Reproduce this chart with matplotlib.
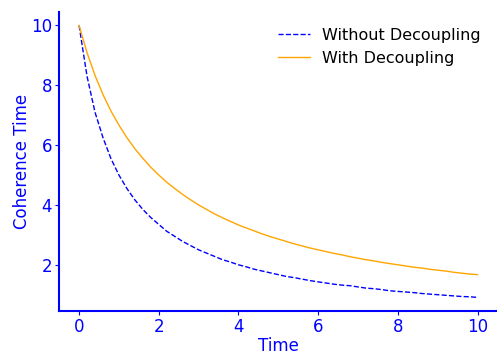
import matplotlib
matplotlib.use("Agg")
import matplotlib.pyplot as plt

time = [round(0.2 * i, 1) for i in range(51)]
without_decoupling = [10.0, 8.3, 7.1, 6.25, 5.55, 5.0, 4.55, 4.17, 3.85, 3.58,
                      3.35, 3.12, 2.95, 2.78, 2.64, 2.5, 2.39, 2.28, 2.17, 2.09,
                      2.0, 1.93, 1.85, 1.79, 1.73, 1.67, 1.61, 1.57, 1.52, 1.47,
                      1.43, 1.39, 1.35, 1.32, 1.30, 1.26, 1.22, 1.20, 1.17, 1.13,
                      1.11, 1.09, 1.07, 1.04, 1.02, 1.0, 0.98, 0.96, 0.94, 0.93, 0.91]
with_decoupling = [10.0, 9.09, 8.33, 7.69, 7.14, 6.67, 6.25, 5.88, 5.56, 5.26,
                   5.0, 4.76, 4.55, 4.35, 4.17, 4.0, 3.85, 3.70, 3.57, 3.45,
                   3.33, 3.23, 3.13, 3.03, 2.94, 2.86, 2.78, 2.70, 2.63, 2.56,
                   2.5, 2.44, 2.38, 2.33, 2.27, 2.22, 2.17, 2.13, 2.08, 2.04,
                   2.0, 1.96, 1.92, 1.89, 1.85, 1.82, 1.79, 1.75, 1.72, 1.69, 1.67]

fig = plt.figure(figsize=(4.97, 3.54), dpi=100)
ax = fig.add_axes([0.119, 0.1215, 0.882, 0.845])
ax.plot(time, without_decoupling, linestyle="--", color="blue", linewidth=1.0, label="Without Decoupling")
ax.plot(time, with_decoupling, color="orange", linewidth=1.0, label="With Decoupling")
ax.set_xlabel("Time", color="blue", fontsize=12, labelpad=1)
ax.set_ylabel("Coherence Time", color="blue", fontsize=12, labelpad=0)
ax.set_xticks([0, 2, 4, 6, 8, 10])
ax.set_yticks([2, 4, 6, 8, 10])
ax.tick_params(colors="blue", labelsize=12, length=3, pad=2)
for s in ["top", "right"]:
    ax.spines[s].set_visible(False)
for s in ["left", "bottom"]:
    ax.spines[s].set_color("blue")
    ax.spines[s].set_linewidth(1.5)
ax.legend(frameon=False, loc="upper right", fontsize=11.5, handlelength=2.0,
          bbox_to_anchor=(0.995, 0.995))
fig.savefig("out.png", dpi=100)
